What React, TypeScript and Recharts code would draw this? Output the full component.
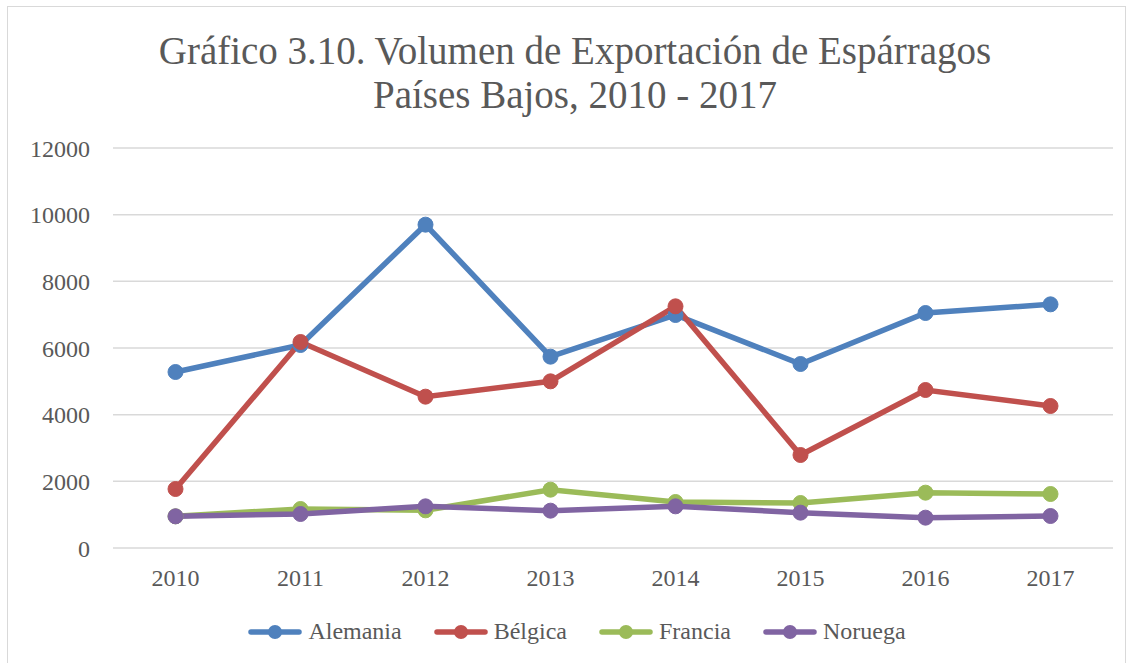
import { LineChart, Line, XAxis, YAxis, CartesianGrid, Legend } from "recharts";

const years = ["2010", "2011", "2012", "2013", "2014", "2015", "2016", "2017"];
const alemania = [5280, 6090, 9700, 5740, 6990, 5520, 7050, 7310];
const belgica = [1770, 6180, 4540, 5000, 7250, 2790, 4740, 4260];
const francia = [950, 1170, 1130, 1750, 1380, 1350, 1660, 1620];
const noruega = [950, 1020, 1250, 1120, 1250, 1060, 910, 960];
const yTicks = [0, 2000, 4000, 6000, 8000, 10000, 12000];

const series = [
  { key: "Alemania", color: "#4f81bd" },
  { key: "Bélgica", color: "#c0504d" },
  { key: "Francia", color: "#9bbb59" },
  { key: "Noruega", color: "#8064a2" },
];

const chartData = years.map((y, i) => ({
  year: y,
  Alemania: alemania[i],
  Bélgica: belgica[i],
  Francia: francia[i],
  Noruega: noruega[i],
}));

const FONT = '"Liberation Serif", "Times New Roman", serif';
const TEXT = "#595959";

function LegendContent({ payload }: { payload?: any[] }) {
  return (
    <div style={{ display: "flex", justifyContent: "center", paddingLeft: 52 }}>
      {(payload || []).map((p: any) => (
        <div key={p.value} style={{ display: "flex", alignItems: "center", marginRight: 32 }}>
          <svg width={54} height={16} style={{ marginRight: 6 }}>
            <line x1={3} y1={8} x2={51} y2={8} stroke={p.color} strokeWidth={5.5} strokeLinecap="round" />
            <circle cx={27} cy={8} r={7} fill={p.color} />
          </svg>
          <span style={{ fontFamily: FONT, fontSize: 24, color: TEXT }}>{p.value}</span>
        </div>
      ))}
    </div>
  );
}

export default function App() {
  return (
    <div style={{ position: "absolute", left: 0, top: 0, width: 1134, height: 663, overflow: "hidden", background: "#fff" }}>
      <div
        style={{
          position: "absolute",
          left: 7,
          top: 6,
          width: 1119,
          height: 700,
          border: "1.5px solid #d9d9d9",
          boxSizing: "border-box",
        }}
      />
      <div
        style={{
          position: "absolute",
          left: 0,
          top: 29,
          width: 1150,
          textAlign: "center",
          fontFamily: FONT,
          fontSize: 39,
          lineHeight: "44px",
          color: TEXT,
        }}
      >
        Gráfico 3.10. Volumen de Exportación de Espárragos
        <br />
        Países Bajos, 2010 - 2017
      </div>
      <div style={{ position: "absolute", left: 0, top: 0 }}>
        <LineChart width={1134} height={663} data={chartData} margin={{ top: 148, right: 21, bottom: 85, left: 53 }}>
          <CartesianGrid vertical={false} stroke="#d9d9d9" strokeWidth={1.5} />
          <XAxis
            dataKey="year"
            axisLine={false}
            tickLine={false}
            tickSize={0}
            tickMargin={21}
            padding={{ left: 62.5, right: 62.5 }}
            tick={{ fontFamily: FONT, fontSize: 24, fill: TEXT }}
          />
          <YAxis
            width={60}
            domain={[0, 12000]}
            ticks={yTicks}
            axisLine={false}
            tickLine={false}
            tickSize={0}
            tickMargin={23}
            tick={{ fontFamily: FONT, fontSize: 24, fill: TEXT }}
          />
          <Legend
            content={<LegendContent />}
            wrapperStyle={{ position: "absolute", left: 0, top: 618, width: 1134, height: 0, overflow: "visible" }}
          />
          {series.map((s) => (
            <Line
              key={s.key}
              dataKey={s.key}
              stroke={s.color}
              strokeWidth={5.5}
              dot={{ r: 7.5, fill: s.color, stroke: s.color, strokeWidth: 1 }}
              activeDot={false}
              isAnimationActive={false}
            />
          ))}
        </LineChart>
      </div>
    </div>
  );
}
